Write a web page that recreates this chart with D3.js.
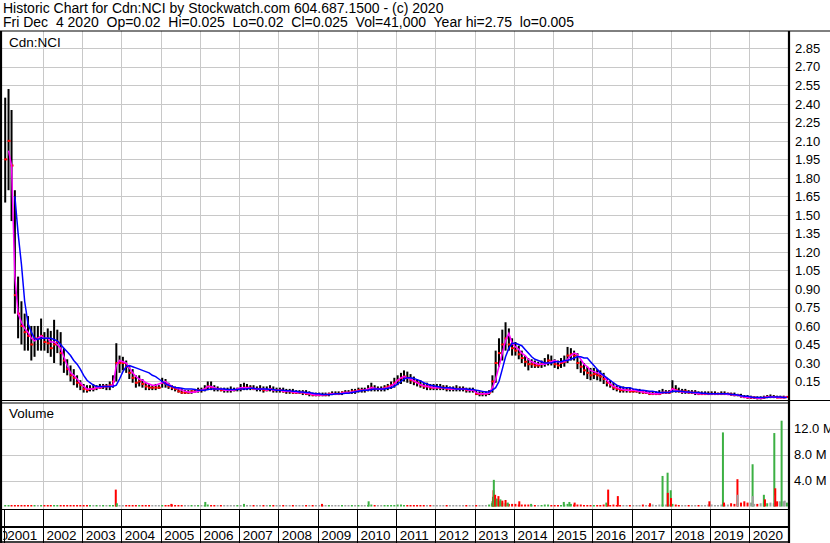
<!DOCTYPE html>
<html>
<head>
<meta charset="utf-8">
<script src="https://cdn.jsdelivr.net/npm/d3@7"></script>
<style>
  body { margin: 0; background: #fff; }
  svg { display: block; font-family: Arial, "Liberation Sans", sans-serif; }
  .grid line { stroke: #c8c8c8; stroke-width: 1; shape-rendering: crispEdges; }
  .grid path { display: none; }
  .lbl text { font-size: 13px; fill: #000; }
  .lbl path, .lbl line { display: none; }
</style>
</head>
<body>
<div id="chart"></div>
<script>
// monthly high / low / close, Jan 2001 .. Dec 2020 (one row per year)
const hi = [
  2.45, 2.52, 2.35, 1.7, 1.0, 0.8, 0.7, 0.68, 0.6, 0.6, 0.6, 0.66,
  0.55, 0.58, 0.56, 0.65, 0.57, 0.55, 0.42, 0.33, 0.28, 0.25, 0.2, 0.16,
  0.13, 0.12, 0.12, 0.13, 0.12, 0.13, 0.13, 0.13, 0.15, 0.2, 0.46, 0.36,
  0.35, 0.32, 0.28, 0.25, 0.2, 0.2, 0.17, 0.14, 0.13, 0.12, 0.13, 0.12,
  0.18, 0.17, 0.14, 0.12, 0.11, 0.1, 0.09, 0.08, 0.08, 0.08, 0.09, 0.1,
  0.1, 0.12, 0.15, 0.15, 0.12, 0.11, 0.1, 0.1, 0.1, 0.11, 0.1, 0.1,
  0.13, 0.14, 0.13, 0.12, 0.12, 0.11, 0.12, 0.11, 0.11, 0.12, 0.11, 0.1,
  0.1, 0.1, 0.09, 0.09, 0.09, 0.08, 0.08, 0.08, 0.08, 0.07, 0.06, 0.06,
  0.06, 0.06, 0.06, 0.06, 0.07, 0.07, 0.07, 0.07, 0.08, 0.08, 0.09, 0.09,
  0.1, 0.1, 0.1, 0.12, 0.14, 0.12, 0.11, 0.11, 0.12, 0.13, 0.15, 0.18,
  0.2, 0.22, 0.24, 0.23, 0.21, 0.19, 0.17, 0.16, 0.14, 0.14, 0.13, 0.13,
  0.13, 0.13, 0.12, 0.12, 0.11, 0.11, 0.12, 0.11, 0.11, 0.1, 0.1, 0.1,
  0.08, 0.07, 0.07, 0.07, 0.08, 0.2, 0.4, 0.5, 0.57, 0.63, 0.58, 0.5,
  0.47, 0.44, 0.4, 0.36, 0.34, 0.33, 0.32, 0.31, 0.32, 0.34, 0.37, 0.36,
  0.33, 0.32, 0.34, 0.36, 0.43, 0.42, 0.4, 0.38, 0.32, 0.3, 0.27, 0.26,
  0.26, 0.25, 0.24, 0.22, 0.18, 0.16, 0.14, 0.12, 0.11, 0.11, 0.1, 0.1,
  0.09, 0.09, 0.09, 0.08, 0.08, 0.07, 0.07, 0.07, 0.08, 0.09, 0.08, 0.08,
  0.16, 0.12, 0.1, 0.09, 0.09, 0.08, 0.08, 0.08, 0.07, 0.07, 0.07, 0.07,
  0.07, 0.07, 0.06, 0.07, 0.07, 0.06, 0.06, 0.06, 0.05, 0.05, 0.04, 0.04,
  0.035, 0.03, 0.03, 0.03, 0.035, 0.04, 0.045, 0.04, 0.035, 0.035, 0.035, 0.03
];
const lo = [
  1.6, 1.7, 1.45, 0.7, 0.5, 0.45, 0.4, 0.4, 0.32, 0.35, 0.4, 0.4,
  0.4, 0.38, 0.35, 0.3, 0.38, 0.28, 0.22, 0.2, 0.15, 0.12, 0.1, 0.08,
  0.06, 0.06, 0.07, 0.07, 0.08, 0.09, 0.09, 0.08, 0.08, 0.1, 0.15, 0.22,
  0.24, 0.22, 0.17, 0.14, 0.1, 0.11, 0.1, 0.08, 0.08, 0.08, 0.08, 0.09,
  0.1, 0.1, 0.09, 0.08, 0.07, 0.06, 0.05, 0.05, 0.05, 0.05, 0.06, 0.06,
  0.06, 0.07, 0.08, 0.08, 0.07, 0.07, 0.07, 0.06, 0.06, 0.06, 0.07, 0.07,
  0.07, 0.08, 0.08, 0.08, 0.08, 0.07, 0.07, 0.06, 0.07, 0.07, 0.06, 0.06,
  0.06, 0.06, 0.05, 0.05, 0.05, 0.05, 0.05, 0.04, 0.04, 0.03, 0.03, 0.03,
  0.03, 0.03, 0.03, 0.03, 0.04, 0.04, 0.04, 0.04, 0.05, 0.05, 0.05, 0.05,
  0.06, 0.06, 0.06, 0.07, 0.07, 0.07, 0.07, 0.07, 0.07, 0.08, 0.09, 0.1,
  0.12, 0.13, 0.15, 0.14, 0.13, 0.12, 0.11, 0.1, 0.09, 0.08, 0.08, 0.08,
  0.08, 0.08, 0.08, 0.07, 0.07, 0.07, 0.07, 0.07, 0.07, 0.06, 0.06, 0.06,
  0.04, 0.03, 0.03, 0.03, 0.04, 0.06, 0.14, 0.27, 0.32, 0.4, 0.4, 0.36,
  0.36, 0.33, 0.3, 0.27, 0.24, 0.26, 0.26, 0.26, 0.26, 0.27, 0.28, 0.28,
  0.26, 0.25, 0.26, 0.27, 0.3, 0.32, 0.32, 0.25, 0.22, 0.2, 0.17, 0.16,
  0.17, 0.16, 0.15, 0.13, 0.11, 0.1, 0.08, 0.07, 0.06, 0.06, 0.06, 0.06,
  0.06, 0.06, 0.05, 0.05, 0.05, 0.04, 0.04, 0.04, 0.04, 0.05, 0.05, 0.05,
  0.06, 0.06, 0.06, 0.05, 0.05, 0.05, 0.05, 0.04, 0.04, 0.04, 0.04, 0.04,
  0.04, 0.04, 0.04, 0.04, 0.04, 0.04, 0.035, 0.03, 0.03, 0.02, 0.015, 0.01,
  0.01, 0.01, 0.005, 0.005, 0.01, 0.015, 0.015, 0.015, 0.015, 0.015, 0.015, 0.02
];
const cl = [
  1.95, 2.1, 1.9, 0.85, 0.7, 0.6, 0.55, 0.52, 0.45, 0.5, 0.5, 0.52,
  0.47, 0.46, 0.42, 0.45, 0.47, 0.38, 0.32, 0.25, 0.2, 0.18, 0.14, 0.12,
  0.09, 0.08, 0.09, 0.09, 0.1, 0.1, 0.11, 0.11, 0.12, 0.15, 0.3, 0.3,
  0.3, 0.27, 0.22, 0.18, 0.14, 0.15, 0.13, 0.11, 0.1, 0.1, 0.1, 0.1,
  0.14, 0.13, 0.11, 0.1, 0.09, 0.07, 0.06, 0.06, 0.06, 0.07, 0.07, 0.08,
  0.08, 0.09, 0.11, 0.1, 0.09, 0.09, 0.08, 0.08, 0.08, 0.08, 0.08, 0.09,
  0.09, 0.1, 0.1, 0.1, 0.09, 0.09, 0.09, 0.08, 0.08, 0.09, 0.08, 0.08,
  0.08, 0.07, 0.07, 0.07, 0.06, 0.06, 0.06, 0.06, 0.05, 0.05, 0.04, 0.04,
  0.04, 0.04, 0.04, 0.05, 0.05, 0.05, 0.05, 0.06, 0.06, 0.06, 0.07, 0.07,
  0.08, 0.08, 0.08, 0.09, 0.1, 0.09, 0.09, 0.09, 0.1, 0.11, 0.12, 0.14,
  0.16, 0.18, 0.19, 0.18, 0.16, 0.15, 0.14, 0.12, 0.11, 0.11, 0.1, 0.1,
  0.1, 0.1, 0.1, 0.09, 0.09, 0.09, 0.09, 0.09, 0.09, 0.08, 0.08, 0.08,
  0.05, 0.05, 0.05, 0.05, 0.06, 0.15, 0.3, 0.38, 0.45, 0.5, 0.45, 0.42,
  0.4, 0.37, 0.34, 0.31, 0.29, 0.29, 0.28, 0.28, 0.29, 0.3, 0.32, 0.31,
  0.29, 0.28, 0.3, 0.31, 0.36, 0.37, 0.36, 0.3, 0.27, 0.24, 0.22, 0.2,
  0.21, 0.2, 0.19, 0.17, 0.14, 0.12, 0.1, 0.09, 0.08, 0.08, 0.08, 0.07,
  0.07, 0.07, 0.07, 0.06, 0.06, 0.05, 0.05, 0.05, 0.05, 0.06, 0.06, 0.06,
  0.09, 0.08, 0.07, 0.07, 0.07, 0.06, 0.06, 0.06, 0.05, 0.05, 0.05, 0.05,
  0.05, 0.05, 0.05, 0.05, 0.05, 0.05, 0.045, 0.04, 0.04, 0.03, 0.025, 0.02,
  0.02, 0.02, 0.015, 0.015, 0.02, 0.025, 0.025, 0.025, 0.02, 0.02, 0.02, 0.025
];
// short (magenta) and long (blue) moving average, read monthly
const maShort = [
  null, 2.02, 1.9, 1.0, 0.7, 0.63, 0.58, 0.55, 0.5, 0.48, 0.5, 0.52,
  0.5, 0.5, 0.47, 0.47, 0.45, 0.42, 0.35, 0.28, 0.22, 0.2, 0.17, 0.14,
  0.11, 0.09, 0.09, 0.09, 0.1, 0.1, 0.11, 0.11, 0.11, 0.12, 0.28, 0.32,
  0.31, 0.3, 0.26, 0.22, 0.19, 0.17, 0.16, 0.14, 0.13, 0.12, 0.12, 0.13,
  0.14, 0.15, 0.13, 0.11, 0.1, 0.09, 0.08, 0.07, 0.065, 0.06, 0.065, 0.07,
  0.08, 0.09, 0.11, 0.11, 0.1, 0.09, 0.09, 0.08, 0.08, 0.08, 0.08, 0.09,
  0.1, 0.1, 0.1, 0.1, 0.09, 0.09, 0.09, 0.09, 0.08, 0.09, 0.08, 0.08,
  0.08, 0.07, 0.07, 0.07, 0.065, 0.06, 0.06, 0.06, 0.055, 0.05, 0.045, 0.04,
  0.04, 0.04, 0.045, 0.045, 0.05, 0.05, 0.05, 0.055, 0.06, 0.06, 0.065, 0.07,
  0.075, 0.08, 0.08, 0.09, 0.1, 0.095, 0.09, 0.09, 0.095, 0.1, 0.115, 0.13,
  0.16, 0.18, 0.19, 0.18, 0.17, 0.155, 0.14, 0.125, 0.115, 0.11, 0.105, 0.1,
  0.1, 0.1, 0.1, 0.095, 0.09, 0.09, 0.09, 0.09, 0.09, 0.085, 0.08, 0.08,
  0.06, 0.05, 0.05, 0.05, 0.055, 0.1, 0.17, 0.27, 0.38, 0.48, 0.54, 0.46,
  0.43, 0.41, 0.38, 0.36, 0.33, 0.31, 0.3, 0.29, 0.29, 0.29, 0.3, 0.31,
  0.32, 0.31, 0.31, 0.31, 0.33, 0.36, 0.38, 0.37, 0.33, 0.29, 0.27, 0.24,
  0.23, 0.22, 0.21, 0.2, 0.16, 0.13, 0.11, 0.1, 0.09, 0.085, 0.08, 0.08,
  0.08, 0.075, 0.07, 0.065, 0.06, 0.055, 0.05, 0.05, 0.05, 0.06, 0.06, 0.06,
  0.09, 0.08, 0.07, 0.065, 0.065, 0.06, 0.06, 0.055, 0.05, 0.05, 0.05, 0.05,
  0.05, 0.05, 0.05, 0.05, 0.05, 0.045, 0.045, 0.04, 0.04, 0.03, 0.025, 0.02,
  0.02, 0.02, 0.015, 0.015, 0.02, 0.025, 0.025, 0.025, 0.02, 0.02, 0.02, 0.025
];
const maLong = [
  null, null, null, 1.65, 1.35, 1.1, 0.8, 0.62, 0.55, 0.5, 0.49, 0.5,
  0.5, 0.5, 0.5, 0.49, 0.48, 0.45, 0.42, 0.39, 0.36, 0.32, 0.29, 0.25,
  0.2, 0.16, 0.14, 0.12, 0.11, 0.11, 0.11, 0.11, 0.11, 0.11, 0.12, 0.17,
  0.23, 0.27, 0.28, 0.27, 0.26, 0.25, 0.24, 0.23, 0.22, 0.2, 0.19, 0.17,
  0.15, 0.13, 0.12, 0.11, 0.1, 0.1, 0.095, 0.09, 0.09, 0.09, 0.085, 0.08,
  0.08, 0.08, 0.085, 0.09, 0.09, 0.09, 0.09, 0.09, 0.085, 0.085, 0.085, 0.085,
  0.09, 0.09, 0.09, 0.095, 0.095, 0.09, 0.09, 0.09, 0.09, 0.085, 0.085, 0.08,
  0.08, 0.08, 0.075, 0.075, 0.07, 0.07, 0.065, 0.065, 0.06, 0.06, 0.055, 0.05,
  0.05, 0.045, 0.045, 0.045, 0.045, 0.05, 0.05, 0.05, 0.055, 0.055, 0.06, 0.065,
  0.07, 0.075, 0.08, 0.08, 0.085, 0.09, 0.09, 0.09, 0.09, 0.095, 0.1, 0.11,
  0.13, 0.15, 0.17, 0.18, 0.18, 0.175, 0.165, 0.155, 0.14, 0.13, 0.12, 0.115,
  0.11, 0.105, 0.1, 0.1, 0.1, 0.095, 0.09, 0.09, 0.09, 0.09, 0.085, 0.085,
  0.08, 0.075, 0.07, 0.065, 0.065, 0.08, 0.1, 0.15, 0.25, 0.35, 0.42, 0.46,
  0.46, 0.45, 0.44, 0.41, 0.38, 0.35, 0.33, 0.32, 0.31, 0.3, 0.3, 0.3,
  0.31, 0.31, 0.31, 0.32, 0.32, 0.33, 0.34, 0.35, 0.35, 0.34, 0.34, 0.31,
  0.28, 0.25, 0.22, 0.2, 0.18, 0.16, 0.14, 0.12, 0.11, 0.1, 0.1, 0.1,
  0.09, 0.085, 0.08, 0.08, 0.075, 0.07, 0.07, 0.065, 0.06, 0.06, 0.06, 0.06,
  0.07, 0.07, 0.07, 0.07, 0.065, 0.065, 0.06, 0.06, 0.06, 0.055, 0.055, 0.05,
  0.05, 0.05, 0.05, 0.05, 0.05, 0.05, 0.045, 0.045, 0.04, 0.035, 0.03, 0.03,
  0.025, 0.02, 0.02, 0.02, 0.02, 0.02, 0.025, 0.025, 0.025, 0.025, 0.02, 0.02
];
// typical daily volume per month, millions
const volBase = [
  0.2, 0.2, 0.15, 0.2, 0.15, 0.1, 0.1, 0.1, 0.1, 0.1, 0.1, 0.1,
  0.1, 0.1, 0.1, 0.15, 0.1, 0.1, 0.1, 0.1, 0.1, 0.1, 0.1, 0.1,
  0.1, 0.1, 0.1, 0.1, 0.1, 0.1, 0.1, 0.1, 0.1, 0.1, 0.4, 0.2,
  0.15, 0.1, 0.1, 0.1, 0.1, 0.1, 0.1, 0.1, 0.1, 0.1, 0.1, 0.1,
  0.15, 0.1, 0.1, 0.3, 0.2, 0.1, 0.1, 0.1, 0.1, 0.1, 0.1, 0.1,
  0.1, 0.2, 0.3, 0.2, 0.1, 0.1, 0.1, 0.1, 0.1, 0.1, 0.1, 0.1,
  0.2, 0.2, 0.1, 0.1, 0.1, 0.2, 0.1, 0.1, 0.1, 0.1, 0.1, 0.1,
  0.1, 0.1, 0.1, 0.1, 0.1, 0.1, 0.1, 0.1, 0.1, 0.1, 0.1, 0.1,
  0.1, 0.1, 0.1, 0.1, 0.1, 0.1, 0.1, 0.1, 0.1, 0.1, 0.1, 0.2,
  0.2, 0.1, 0.1, 0.2, 0.3, 0.1, 0.1, 0.1, 0.1, 0.1, 0.2, 0.2,
  0.3, 0.3, 0.2, 0.2, 0.2, 0.1, 0.1, 0.1, 0.1, 0.1, 0.1, 0.1,
  0.1, 0.1, 0.1, 0.1, 0.1, 0.1, 0.1, 0.1, 0.1, 0.1, 0.1, 0.1,
  0.1, 0.1, 0.1, 0.1, 0.3, 0.8, 1.2, 0.8, 0.6, 0.5, 0.4, 0.4,
  0.4, 0.3, 0.3, 0.3, 0.3, 0.2, 0.2, 0.2, 0.2, 0.3, 0.3, 0.2,
  0.2, 0.2, 0.2, 0.3, 0.4, 0.4, 0.3, 0.3, 0.3, 0.2, 0.2, 0.2,
  0.2, 0.2, 0.2, 0.3, 0.3, 0.2, 0.3, 0.2, 0.2, 0.2, 0.2, 0.2,
  0.2, 0.2, 0.2, 0.3, 0.2, 0.2, 0.3, 0.2, 0.3, 0.3, 0.3, 0.3,
  0.4, 0.3, 0.2, 0.2, 0.2, 0.2, 0.2, 0.2, 0.2, 0.2, 0.2, 0.3,
  0.3, 0.2, 0.2, 0.3, 0.3, 0.3, 0.5, 0.4, 0.5, 0.6, 0.8, 0.6,
  0.6, 0.4, 0.4, 0.5, 0.6, 0.5, 0.6, 0.5, 0.8, 0.7, 0.8, 0.6
];
// single heavy days: date, volume (millions), u = up / d = down / n = unchanged
const volSpikes = [
  ["2003-11-10", 2.6, "d"], ["2003-11-20", 0.5, "u"],
  ["2005-04-10", 0.4, "d"], ["2006-02-20", 0.7, "u"], ["2007-02-15", 0.4, "u"],
  ["2009-02-10", 0.4, "d"], ["2010-04-20", 0.8, "u"],
  ["2013-06-10", 0.5, "u"], ["2013-06-20", 1.5, "u"], ["2013-06-25", 2.5, "d"],
  ["2013-06-28", 4.1, "u"], ["2013-07-10", 1.8, "d"], ["2013-07-25", 1.2, "u"],
  ["2013-08-10", 1.6, "d"], ["2013-08-28", 1.1, "u"], ["2013-09-15", 0.9, "d"],
  ["2013-10-15", 1.0, "d"], ["2013-11-05", 0.6, "u"],
  ["2014-02-20", 0.8, "d"], ["2014-06-10", 0.4, "u"],
  ["2015-04-10", 0.7, "u"], ["2015-06-01", 0.7, "u"], ["2015-07-20", 0.6, "d"],
  ["2016-05-10", 0.6, "u"], ["2016-05-27", 2.6, "d"], ["2016-08-25", 1.6, "d"],
  ["2017-06-20", 0.5, "d"], ["2017-10-15", 4.7, "u"], ["2017-12-01", 5.2, "u"],
  ["2017-12-03", 2.1, "d"], ["2017-12-30", 2.5, "u"], ["2018-01-02", 1.3, "d"],
  ["2018-12-25", 0.8, "d"], ["2019-04-30", 11.4, "u"], ["2019-05-10", 0.6, "d"],
  ["2019-09-12", 4.2, "d"], ["2019-09-14", 1.8, "n"],
  ["2020-01-31", 6.5, "u"], ["2020-02-02", 1.6, "n"],
  ["2020-05-15", 1.8, "u"], ["2020-05-25", 1.1, "d"],
  ["2020-08-20", 11.3, "u"], ["2020-08-25", 1.7, "n"], ["2020-08-29", 2.8, "d"],
  ["2020-10-10", 0.8, "n"], ["2020-10-27", 13.2, "u"], ["2020-11-25", 0.9, "n"]
];

const priceTicks = ["0.15", "0.30", "0.45", "0.60", "0.75", "0.90", "1.05", "1.20", "1.35",
  "1.50", "1.65", "1.80", "1.95", "2.10", "2.25", "2.40", "2.55", "2.70", "2.85"];
const volTicks = ["4.0 M", "8.0 M", "12.0 M"];
const yearLabels = ["2000", "2001", "2002", "2003", "2004", "2005", "2006", "2007", "2008", "2009", "2010",
  "2011", "2012", "2013", "2014", "2015", "2016", "2017", "2018", "2019", "2020"];

const title1 = "Historic Chart for Cdn:NCI by Stockwatch.com 604.687.1500 - (c) 2020";
const title2 = "Fri Dec  4 2020  Op=0.02  Hi=0.025  Lo=0.02  Cl=0.025  Vol=41,000  Year hi=2.75  lo=0.005";

const COLORS = { bar: '#000', close: '#ff0000', maS: '#ff00ff', maL: '#0000ff',
  up: '#3cb043', down: '#ff0000', flat: '#a0a0a0', grid: '#c8c8c8' };

const W = 830, H = 543;
const plotL = 2, plotR = 789;
const priceTop = 31, priceBot = 400.5;
const volTop = 403, volBot = 509.5, axisMid = 527;

const parse = d3.timeParse('%Y-%m-%d');
const months = d3.timeMonth.range(new Date(2001, 0, 1), new Date(2021, 0, 1));
const mid = months.map(m => d3.timeDay.offset(m, 14));
const years = yearLabels.map(s => new Date(+s, 0, 1));

const x = d3.scaleTime().domain([new Date(2001, 0, 1), new Date(2021, 0, 1)]).range([3.7, 788.7]);
const y = d3.scaleLinear().domain([0, 2.85]).range([400, 48.3]);
const yv = d3.scaleLinear().domain([0, 12]).range([506.5, 428.5]);

const svg = d3.select('#chart').append('svg').attr('width', W).attr('height', H);
svg.append('rect').attr('width', W).attr('height', H).attr('fill', '#fff');

svg.append('defs').append('clipPath').attr('id', 'plotclip')
  .append('rect').attr('x', plotL + 1).attr('y', priceTop).attr('width', plotR - plotL - 2).attr('height', volBot - priceTop);
svg.append('defs').append('clipPath').attr('id', 'axclip')
  .append('rect').attr('x', plotL + 1).attr('y', axisMid).attr('width', plotR - plotL - 2).attr('height', H - axisMid);

// header
svg.append('text').attr('x', 3).attr('y', 13).style('font-size', '14px').text(title1);
svg.append('text').attr('x', 3).attr('y', 26.5).style('font-size', '14px')
  .style('white-space', 'pre').text(title2);

// grids
const yGridVals = priceTicks.map(Number);
svg.append('g').attr('class', 'grid').attr('transform', 'translate(' + plotR + ',0)')
  .call(d3.axisLeft(y).tickValues(yGridVals).tickSize(plotR - plotL).tickFormat(''));
svg.append('g').attr('class', 'grid').attr('transform', 'translate(' + plotR + ',0)')
  .call(d3.axisLeft(yv).tickValues([4, 8, 12]).tickSize(plotR - plotL).tickFormat(''));
svg.append('g').attr('class', 'grid').attr('transform', 'translate(0,' + priceBot + ')')
  .call(d3.axisTop(x).tickValues(years.slice(2)).tickSize(priceBot - priceTop).tickFormat(''));
svg.append('g').attr('class', 'grid').attr('transform', 'translate(0,' + volBot + ')')
  .call(d3.axisTop(x).tickValues(years.slice(2)).tickSize(volBot - volTop).tickFormat(''));

const plot = svg.append('g').attr('clip-path', 'url(#plotclip)');

// volume
const dirColor = d => d === 'u' ? COLORS.up : d === 'd' ? COLORS.down : COLORS.flat;
const baseDir = cl.map((c, i) => i === 0 ? 'u' : c > cl[i - 1] ? 'u' : c < cl[i - 1] ? 'd' : 'n');
plot.selectAll('.vb').data(volBase).enter().append('rect')
  .attr('x', (d, i) => x(mid[i]) - 1)
  .attr('y', d => Math.min(yv(d), yv(0) - 1.5))
  .attr('width', 2)
  .attr('height', d => Math.max(1.5, yv(0) - yv(d)))
  .attr('fill', (d, i) => dirColor(baseDir[i]));
plot.selectAll('.vs').data(volSpikes).enter().append('rect')
  .attr('x', d => x(parse(d[0])) - 1)
  .attr('y', d => yv(d[1]))
  .attr('width', 2)
  .attr('height', d => yv(0) - yv(d[1]))
  .attr('fill', d => dirColor(d[2]));

// price bars
plot.selectAll('.bar').data(hi).enter().append('rect')
  .attr('x', (d, i) => x(mid[i]) - 1)
  .attr('y', d => y(d))
  .attr('width', 2)
  .attr('height', (d, i) => Math.max(1, y(lo[i]) - y(d)))
  .attr('fill', COLORS.bar);
plot.selectAll('.cls').data(cl).enter().append('rect')
  .attr('x', (d, i) => x(mid[i]) - 1)
  .attr('y', d => y(d) - 1)
  .attr('width', 3)
  .attr('height', 2)
  .attr('fill', COLORS.close);

const line = arr => d3.line()
  .defined((d, i) => arr[i] != null)
  .x((d, i) => x(mid[i]))
  .y((d, i) => y(arr[i]))(arr);
plot.append('path').attr('d', line(maShort)).attr('fill', 'none')
  .attr('stroke', COLORS.maS).attr('stroke-width', 1.5);
plot.append('path').attr('d', line(maLong)).attr('fill', 'none')
  .attr('stroke', COLORS.maL).attr('stroke-width', 1.5);

// panel labels
svg.append('text').attr('x', 9).attr('y', 47).style('font-size', '13.5px').text('Cdn:NCI');
svg.append('text').attr('x', 9).attr('y', 418).style('font-size', '13.5px').text('Volume');

// right axes
svg.append('g').attr('class', 'lbl').attr('transform', 'translate(795,0)')
  .call(d3.axisRight(y).tickValues(yGridVals).tickSize(0).tickPadding(0).tickFormat(d3.format('.2f')));
svg.append('g').attr('class', 'lbl').attr('transform', 'translate(794,0)')
  .call(d3.axisRight(yv).tickValues([4, 8, 12]).tickSize(0).tickPadding(0)
    .tickFormat((d, i) => volTicks[i]));

// x axis: separators and year labels
const xa = svg.append('g').attr('clip-path', 'url(#axclip)');
svg.selectAll('.sep').data(years.slice(1)).enter().append('line')
  .attr('x1', d => Math.round(x(d)) + 0.5).attr('x2', d => Math.round(x(d)) + 0.5)
  .attr('y1', volBot).attr('y2', H)
  .attr('stroke', '#000').attr('stroke-width', 1);
xa.selectAll('.yl').data(yearLabels).enter().append('text')
  .attr('x', (d, i) => i === 0 ? 8 : x(years[i]) + 3.5)
  .attr('y', 540)
  .attr('text-anchor', (d, i) => i === 0 ? 'end' : 'start')
  .style('font-size', '13.5px')
  .text(d => d);

// frame
const frame = [
  [0, priceTop, W, priceTop, 1],
  [0, priceBot, W, priceBot, 1.2],
  [0, volTop, plotR, volTop, 1.2],
  [0, volBot, plotR, volBot, 1.2],
  [0, axisMid, plotR, axisMid, 2],
  [0, H - 1, plotR, H - 1, 1.5],
  [1, priceTop, 1, H, 2.2],
  [plotR, priceTop, plotR, H, 2.2]
];
svg.selectAll('.fr').data(frame).enter().append('line')
  .attr('x1', d => d[0]).attr('y1', d => d[1]).attr('x2', d => d[2]).attr('y2', d => d[3])
  .attr('stroke', '#000').attr('stroke-width', d => d[4]);
</script>
</body>
</html>
